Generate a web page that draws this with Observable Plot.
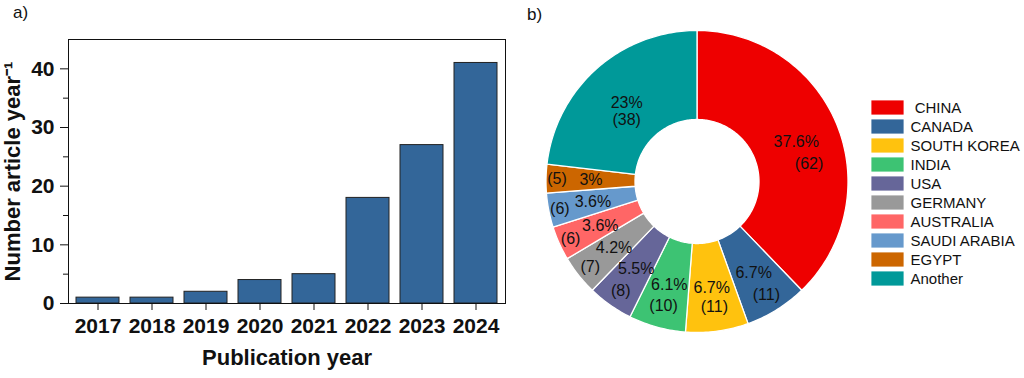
<!DOCTYPE html>
<html>
<head>
<meta charset="utf-8">
<script src="https://cdn.jsdelivr.net/npm/d3@7"></script>
<script src="https://cdn.jsdelivr.net/npm/@observablehq/plot@0.6"></script>
<style>
  html, body { margin: 0; padding: 0; background: #fff; }
  #wrap { position: relative; width: 1024px; height: 378px; overflow: hidden; font-family: "Liberation Sans", Arial, sans-serif; }
  .abs { position: absolute; }
  .tag { font-size: 17px; color: #111; line-height: 1; }
</style>
</head>
<body>
<div id="wrap">
  <div id="bars" class="abs" style="left:0;top:0"></div>
  <div id="donut" class="abs" style="left:520px;top:0"></div>
  <div id="legend" class="abs" style="left:850px;top:0"></div>
  <div class="tag abs" style="left:13px;top:4px">a)</div>
  <div class="tag abs" style="left:527px;top:6px">b)</div>
</div>
<script>
// ---- Data: panel a ----
const years = ["2017", "2018", "2019", "2020", "2021", "2022", "2023", "2024"];
const articleCounts = [1, 1, 2, 4, 5, 18, 27, 41];
const yMajorTicks = [0, 10, 20, 30, 40];
const yMinorTicks = [5, 15, 25, 35];

// ---- Data: panel b ----
const countries = ["CHINA", "CANADA", "SOUTH KOREA", "INDIA", "USA", "GERMANY", "AUSTRALIA", "SAUDI ARABIA", "EGYPT", "Another"];
const countryCounts = [62, 11, 11, 10, 8, 7, 6, 6, 5, 38];
const countryPercents = ["37.6%", "6.7%", "6.7%", "6.1%", "5.5%", "4.2%", "3.6%", "3.6%", "3%", "23%"];
const countryColors = ["#EE0000", "#336699", "#FFC20E", "#3DC373", "#666699", "#999999", "#FF6666", "#6699CC", "#CC6600", "#009999"];

const FONT = "'Liberation Sans', Arial, sans-serif";

// ================= Panel a: bar chart =================
const barData = years.map((y, i) => ({year: y, count: articleCounts[i]}));
const bars = Plot.plot({
  width: 520, height: 378,
  marginLeft: 68, marginRight: 15, marginTop: 39, marginBottom: 75,
  style: {fontFamily: FONT, color: "#111", background: "transparent", overflow: "visible"},
  x: {domain: years, paddingInner: 0.2, paddingOuter: 0.09},
  y: {domain: [0, 45]},
  marks: [
    Plot.barY(barData, {x: "year", y: "count", fill: "#336699", stroke: "#222", strokeWidth: 1}),
    Plot.frame({stroke: "#111", strokeWidth: 1}),
    Plot.axisY({ticks: yMajorTicks, tickSize: 8, tickPadding: 6, fontSize: 21, fontWeight: "bold", label: null, stroke: "#111"}),
    Plot.axisY({ticks: yMinorTicks, tickSize: 5, tickFormat: () => "", label: null, stroke: "#111"}),
    Plot.axisX({tickSize: 7, tickPadding: 8, fontSize: 21, fontWeight: "bold", label: null, stroke: "#111"}),
    Plot.text(["Publication year"], {frameAnchor: "bottom", textAnchor: "middle", dy: 61, fontSize: 22, fontWeight: "bold", fill: "#111"}),
    Plot.text(["Number article year\u207B\u00B9"], {frameAnchor: "left", textAnchor: "middle", rotate: -90, dx: -56, fontSize: 22, fontWeight: "bold", fill: "#111"})
  ]
});
document.getElementById("bars").appendChild(bars);

// ================= Panel b: donut chart =================
const total = d3.sum(countryCounts);
const rIn = 62 / 151, rOut = 1;
const STEP = Math.PI / 180;
let acc = 0;
const slices = countries.map((c, i) => {
  const a0 = acc / total * 2 * Math.PI;
  acc += countryCounts[i];
  const a1 = acc / total * 2 * Math.PI;
  return {country: c, a0, a1, count: countryCounts[i], pct: countryPercents[i]};
});
const ringRows = [];
for (const s of slices) {
  const n = Math.max(2, Math.ceil((s.a1 - s.a0) / STEP) + 1);
  for (let k = 0; k < n; k++) {
    const t = s.a0 + (s.a1 - s.a0) * k / (n - 1);
    ringRows.push({country: s.country, x1: rIn * Math.sin(t), y1: rIn * Math.cos(t), x2: rOut * Math.sin(t), y2: rOut * Math.cos(t)});
  }
}
// label anchors: percent at slice centroid, count offset below / outward
const PX = 151; // pixels per radius unit
const labelRows = slices.map(s => {
  const m = (s.a0 + s.a1) / 2;
  const rm = (rIn + rOut) / 2;
  const px = rm * Math.sin(m), py = rm * Math.cos(m);
  const deg = m * 180 / Math.PI;
  const th = (deg > 300 ? 180 : Math.min(275, Math.max(150, deg))) * Math.PI / 180;
  const d = (17 + 17 * Math.abs(Math.sin(th))) / PX;
  return {pct: s.pct, cnt: `(${s.count})`, px, py, cx: px + d * Math.sin(th), cy: py + d * Math.cos(th)};
});

const donut = Plot.plot({
  width: 340, height: 378,
  margin: 0,
  style: {fontFamily: FONT, color: "#111", background: "transparent", overflow: "visible"},
  x: {domain: [-1, 1], range: [177 - 151, 177 + 151], axis: null},
  y: {domain: [-1, 1], range: [181.5 + 151, 181.5 - 151], axis: null},
  color: {domain: countries, range: countryColors},
  marks: [
    Plot.area(ringRows, {x1: "x1", y1: "y1", x2: "x2", y2: "y2", z: "country", fill: "country", stroke: "white", strokeWidth: 1.3}),
    Plot.text(labelRows, {x: "px", y: "py", text: "pct", fontSize: 16, fill: "#111"}),
    Plot.text(labelRows, {x: "cx", y: "cy", text: "cnt", fontSize: 16, fill: "#111"})
  ]
});
document.getElementById("donut").appendChild(donut);

// ================= Legend =================
const legend = Plot.plot({
  width: 174, height: 378,
  margin: 0,
  style: {fontFamily: FONT, color: "#111", background: "transparent", overflow: "visible"},
  x: {domain: [0, 1], range: [21, 54], axis: null},
  y: {domain: countries, range: [97.4, 289.4], paddingInner: 0.2, paddingOuter: 0.1, axis: null},
  color: {domain: countries, range: countryColors},
  marks: [
    Plot.barX(countries, {x1: 0, x2: 1, y: d => d, fill: d => d, stroke: "white", strokeWidth: 0.8}),
    Plot.text(countries, {x: 1, y: d => d, text: d => d === "CHINA" ? "\u00A0CHINA" : d, textAnchor: "start", dx: 6, fontSize: 15, fill: "#111"})
  ]
});
document.getElementById("legend").appendChild(legend);
</script>
</body>
</html>
